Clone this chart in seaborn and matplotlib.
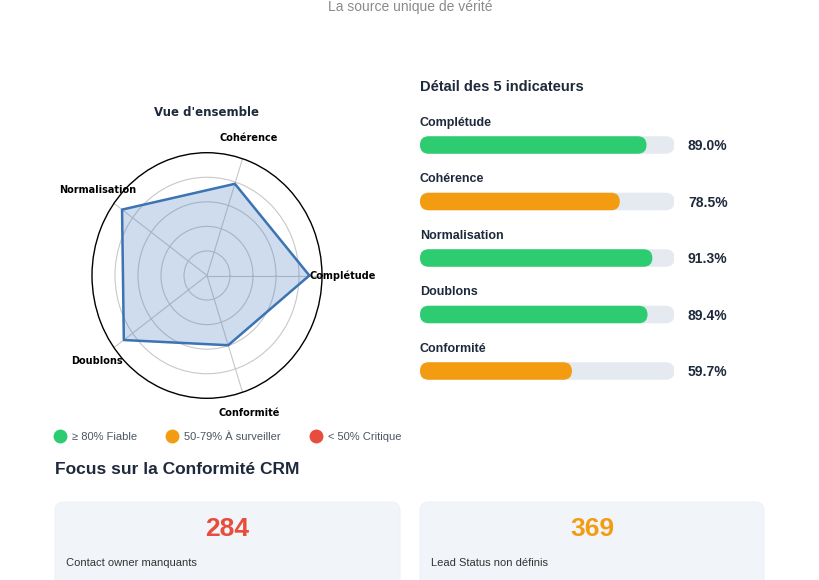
import numpy as np
import pandas as pd
import matplotlib
matplotlib.use("Agg")
import matplotlib.pyplot as plt
from matplotlib.patches import FancyBboxPatch
import seaborn as sns

# ---------------- data ----------------
categories = ["Complétude", "Cohérence", "Normalisation", "Doublons", "Conformité"]
scores = [89.0, 78.5, 91.3, 89.4, 59.7]
legend_labels = ["≥ 80% Fiable", "50-79% À surveiller", "< 50% Critique"]
card_values = [284, 369]
card_labels = ["Contact owner manquants", "Lead Status non définis"]

GREEN, ORANGE, RED = "#2ecc71", "#f39c12", "#e74c3c"
TRACK = "#e5eaf1"
NAVY = "#1e293b"
HTML_FONT = ["Liberation Sans", "DejaVu Sans"]


def status_color(v):
    if v >= 80:
        return GREEN
    if v >= 50:
        return ORANGE
    return RED


sns.set_theme(style="white")
plt.rcParams["font.family"] = ["DejaVu Sans"]

W, H = 820, 580
fig = plt.figure(figsize=(W / 100, H / 100), dpi=100)
fig.patch.set_facecolor("white")

# background axes in pixel coordinates
bg = fig.add_axes([0, 0, 1, 1], zorder=0)
bg.set_xlim(0, W)
bg.set_ylim(H, 0)
bg.axis("off")


def fax(x0, y0, x1, y1):
    return [x0 / W, (H - y1) / H, (x1 - x0) / W, (y1 - y0) / H]


# subtitle (at the very top)
bg.text(410, 7.5, "La source unique de vérité", ha="center", va="center",
        fontsize=10, color="#8a8a8a", family=HTML_FONT)

# ---------------- radar ----------------
ax_r = fig.add_axes(fax(92, 152.7, 322, 398.3), projection="polar", zorder=2)
ax_r.set_aspect("auto")
n = len(categories)
angles = np.linspace(0, 2 * np.pi, n, endpoint=False)
theta = np.concatenate([angles, angles[:1]])
rvals = np.array(scores + scores[:1])
ax_r.fill(theta, rvals, color="#4a7fbd", alpha=0.27, zorder=2)
ax_r.plot(theta, rvals, color="#3c74b3", lw=1.8, zorder=3)
ax_r.set_ylim(0, 100)
ax_r.set_yticks([20, 40, 60, 80])
ax_r.set_yticklabels([])
ax_r.set_xticks(angles)
ax_r.set_xticklabels([])
ax_r.grid(True, color="#c8c8c8", lw=0.8)
ax_r.spines["polar"].set_color("black")
ax_r.spines["polar"].set_linewidth(1.0)
ax_r.set_facecolor("white")
for a, lab in zip(angles, categories):
    ax_r.text(a, 118, lab, ha="center", va="center", fontsize=7,
              fontweight="bold", color="black", clip_on=False, zorder=5)
bg.text(207, 113, "Vue d'ensemble", ha="center", va="center", fontsize=8.5,
        fontweight="bold", color=NAVY)

# ---------------- bars ----------------
bg.text(420, 87, "Détail des 5 indicateurs", ha="left", va="center",
        fontsize=10.5, fontweight="bold", color=NAVY, family=HTML_FONT)

ax_b = fig.add_axes(fax(420, 116.75, 674.5, 399.25), zorder=2)
df = pd.DataFrame({"cat": categories, "score": scores,
                   "track": [100.0] * n})
sns.barplot(data=df, x="track", y="cat", orient="h", color=TRACK,
            width=0.31, saturation=1, ax=ax_b, zorder=1)
sns.barplot(data=df, x="score", y="cat", hue="cat", orient="h",
            palette=[status_color(v) for v in scores], width=0.31,
            saturation=1, legend=False, ax=ax_b, zorder=2)
ax_b.set_xlim(0, 100)
ax_b.set_ylim(4.5, -0.5)
ax_b.axis("off")

# round the bars
fig.canvas.draw()
p0 = ax_b.transData.transform((0, 0))
p1 = ax_b.transData.transform((1, 1))
ux = 1 / abs(p1[0] - p0[0])  # x units per px
uy = 1 / abs(p1[1] - p0[1])  # y units per px
aspect = uy / ux
for k, p in enumerate(list(ax_b.patches)):
    x, y, w, h = p.get_x(), p.get_y(), p.get_width(), p.get_height()
    fc = p.get_facecolor()
    p.set_visible(False)
    rs = (h / aspect) / 2
    fb = FancyBboxPatch((x, y), w, h,
                        boxstyle=f"round,pad=0,rounding_size={rs}",
                        mutation_aspect=aspect, facecolor=fc,
                        edgecolor="none", zorder=1 + (k >= n))
    ax_b.add_patch(fb)

for i, (c, v) in enumerate(zip(categories, scores)):
    ax_b.text(0, i - 0.39, c, ha="left", va="center", fontsize=9,
              fontweight="bold", color=NAVY, family=HTML_FONT, clip_on=False)
    ax_b.text(105.3, i + 0.02, f"{v:.1f}%", ha="left", va="center",
              fontsize=10, fontweight="bold", color=NAVY, family=HTML_FONT,
              clip_on=False)

# ---------------- legend ----------------
leg_x = [60, 172, 316]
for x, lab, col in zip(leg_x, legend_labels, [GREEN, ORANGE, RED]):
    bg.plot([x], [436], marker="o", ms=10, color=col, mec="none")
    bg.text(x + 12, 436.5, lab, ha="left", va="center", fontsize=8,
            color="#4b5563", family=HTML_FONT)

# ---------------- focus section ----------------
bg.text(55, 470, "Focus sur la Conformité CRM", ha="left", va="center",
        fontsize=12.5, fontweight="bold", color=NAVY, family=HTML_FONT)

cards = [(55, 400), (420, 764)]
for (x0, x1), val, lab, col in zip(cards, card_values, card_labels, [RED, ORANGE]):
    card = FancyBboxPatch((x0, 502), x1 - x0, 120,
                          boxstyle="round,pad=0,rounding_size=9",
                          facecolor="#f1f4f9", edgecolor="#eef1f5", lw=0.8,
                          zorder=0)
    bg.add_patch(card)
    bg.text((x0 + x1) / 2, 529, str(val), ha="center", va="center",
            fontsize=19, fontweight="bold", color=col, family=HTML_FONT)
    bg.text(x0 + 11, 563, lab, ha="left", va="center", fontsize=8,
            color="#333333", family=HTML_FONT)

fig.savefig("out.png", dpi=100, facecolor="white")
